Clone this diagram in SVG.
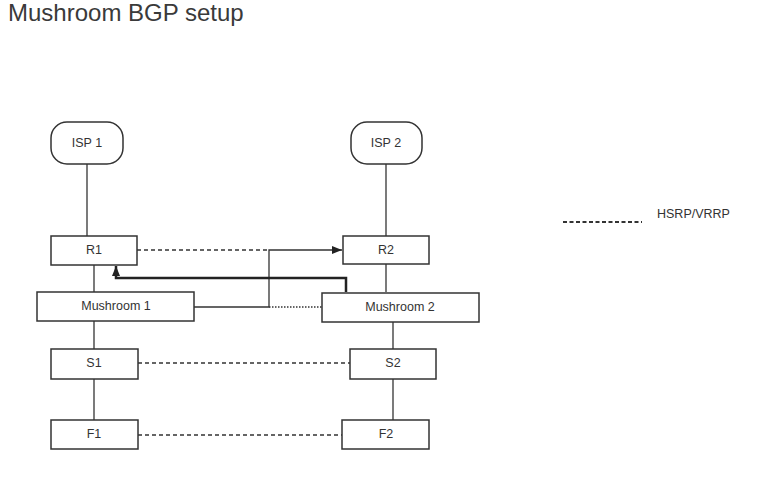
<svg xmlns="http://www.w3.org/2000/svg" width="765" height="478" viewBox="0 0 765 478">
<style>
.box{fill:#fff;stroke:#333;stroke-width:1.5}
.lbl{font-family:"Liberation Sans",Arial,sans-serif;font-size:12.5px;fill:#333;text-anchor:middle;dominant-baseline:central}
.ln{stroke:#333;stroke-width:1.3;fill:none}
.dash{stroke:#333;stroke-width:1.3;fill:none;stroke-dasharray:4 3}
.dot{stroke:#333;stroke-width:1.3;fill:none;stroke-dasharray:1.5 1.5}
.thick{stroke:#222;stroke-width:2.5;fill:none}
</style>
<defs>
<marker id="ah" viewBox="0 0 10 10" refX="10" refY="5" markerWidth="10" markerHeight="10" markerUnits="userSpaceOnUse" orient="auto">
<path d="M0,1 L10,5 L0,9 Z" fill="#222"/>
</marker>
</defs>
<rect width="765" height="478" fill="#fff"/>
<text x="8" y="21" font-family="'Liberation Sans',Arial,sans-serif" font-size="24" fill="#3a3a3a">Mushroom BGP setup</text>

<g id="connectors">
<line class="ln" x1="87" y1="164" x2="87" y2="236"/>
<line class="ln" x1="386" y1="164" x2="386" y2="236"/>
<line class="ln" x1="94" y1="265" x2="94" y2="292"/>
<line class="ln" x1="386" y1="264" x2="386" y2="292"/>
<line class="ln" x1="94" y1="321" x2="94" y2="349"/>
<line class="ln" x1="393" y1="322" x2="393" y2="349"/>
<line class="ln" x1="94" y1="379" x2="94" y2="420"/>
<line class="ln" x1="393" y1="379" x2="393" y2="420"/>
<line class="dash" x1="137" y1="250" x2="269" y2="250"/>
<path class="ln" d="M194,307 H269 V250 H342" marker-end="url(#ah)"/>
<line class="dot" x1="269" y1="307" x2="322" y2="307"/>
<path class="thick" d="M346,292 V278 H116 V266" marker-end="url(#ah)"/>
<line class="dash" x1="138" y1="363" x2="350" y2="363"/>
<line class="dash" x1="138" y1="435" x2="342" y2="435"/>
</g>

<g id="legend">
<line x1="563" y1="222" x2="642" y2="222" stroke="#333" stroke-width="2" stroke-dasharray="4 2.5"/>
<text x="657" y="218" font-family="'Liberation Sans',Arial,sans-serif" font-size="12.5" fill="#333">HSRP/VRRP</text>
</g>

<g id="isp1"><rect class="box" x="51" y="122" width="72" height="42" rx="16"/><text class="lbl" x="87" y="143">ISP 1</text></g>
<g id="isp2"><rect class="box" x="351" y="122" width="71" height="42" rx="16"/><text class="lbl" x="386" y="143">ISP 2</text></g>
<g id="r1"><rect class="box" x="51" y="236" width="86" height="29"/><text class="lbl" x="94" y="250">R1</text></g>
<g id="r2"><rect class="box" x="343" y="236" width="86" height="28"/><text class="lbl" x="386" y="250">R2</text></g>
<g id="mushroom1"><rect class="box" x="37" y="292" width="157" height="29"/><text class="lbl" x="116" y="306">Mushroom 1</text></g>
<g id="mushroom2"><rect class="box" x="322" y="293" width="157" height="29"/><text class="lbl" x="400" y="307">Mushroom 2</text></g>
<g id="s1"><rect class="box" x="51" y="349" width="87" height="30"/><text class="lbl" x="94" y="363">S1</text></g>
<g id="s2"><rect class="box" x="350" y="349" width="86" height="30"/><text class="lbl" x="393" y="363">S2</text></g>
<g id="f1"><rect class="box" x="51" y="420" width="87" height="29"/><text class="lbl" x="94" y="434">F1</text></g>
<g id="f2"><rect class="box" x="342" y="420" width="87" height="29"/><text class="lbl" x="386" y="434">F2</text></g>
</svg>
